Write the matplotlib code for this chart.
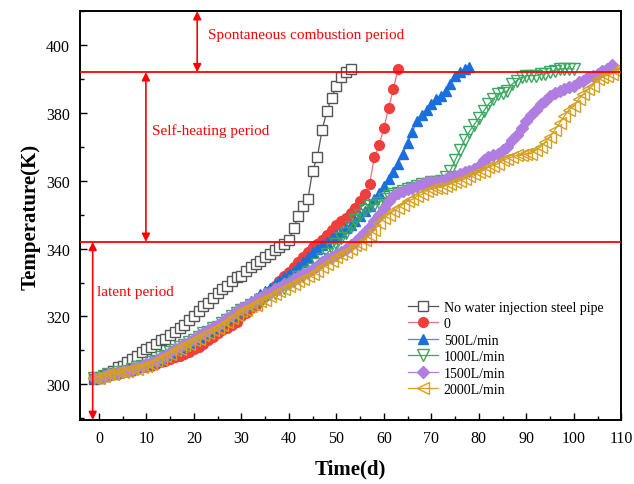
import numpy as np
import matplotlib
matplotlib.use("Agg")
import matplotlib.pyplot as plt
from matplotlib.ticker import MultipleLocator

plt.rcParams['font.family'] = ['Liberation Serif', 'DejaVu Serif']

# temperature (K), one point per day
days_pipe = list(range(-1, 54))
t_pipe = [301.5, 302, 302.5, 303, 304, 305, 305.5, 306.5, 307.5, 308.5, 309.5, 310.5, 311, 312, 313,
          313.5, 314.5, 315.5, 316.5, 317.5, 319, 320, 321.5, 323, 324, 325.5, 327, 328, 329, 330.5,
          331.5, 332, 333.5, 334.5, 335.5, 336.5, 337.5, 338.5, 339.5, 340.5, 341.5, 342.5, 346, 349.5,
          352.5, 354.5, 363, 367, 375, 380.5, 384.5, 388, 390.5, 392, 393]

days_0 = list(range(-1, 64))
t_0 = [302, 302, 302.5, 302.5, 303, 303, 303.5, 304, 304, 304.5, 305, 305, 305.5, 306, 306.5, 307,
       307.5, 308, 308.5, 309, 309.5, 310.5, 311, 312, 313, 314, 315, 316, 316.5, 317.5, 318.5, 320,
       321, 322.5, 323.5, 325, 326, 327.5, 329, 330.5, 332, 333, 334.5, 336, 337.5, 339, 340.5, 341.5,
       342.5, 344, 345.5, 347, 348, 349, 350.5, 352, 354, 356, 359, 367, 370.5, 375.5, 381.5, 387, 393]

days_500 = list(range(-1, 79))
t_500 = [302, 302, 302.5, 303, 303, 303.5, 304, 304, 304.5, 305, 305.5, 306, 306.5, 307, 307.5, 308.5,
         309, 310, 310.5, 311.5, 312, 313, 314, 315, 315.5, 316.5, 317.5, 318.5, 319.5, 320.5, 321.5,
         322.5, 323.5, 324.5, 325.5, 326.5, 327.5, 328.5, 329.5, 330.5, 331.5, 332.5, 333.5, 334.5, 336,
         337.5, 339, 340, 341, 342, 343, 344, 345, 346, 347, 348, 349.5, 351, 352.5, 354.5, 356.5, 358.5,
         360.5, 362.5, 365, 368, 371, 374.5, 377.5, 379.5, 381, 382.5, 384, 385, 386.5, 388.5, 391, 392,
         393, 393.5]

days_1000 = list(range(-1, 101))
t_1000 = [302, 302, 302.5, 303, 303, 303.5, 303.5, 304, 304.5, 305, 305.5, 305.5, 306.5, 307, 308, 308.5,
          309.5, 310, 311, 311.5, 312.5, 313, 314, 315, 315.5, 316.5, 317, 318, 319, 320, 321, 322, 322.5,
          323.5, 324, 325, 325.5, 326.5, 327, 328, 328.5, 329.5, 330.5, 331.5, 332, 333, 334, 335.5, 337,
          338.5, 340, 341.5, 343, 344.5, 346.5, 348.5, 350, 351.5, 352.5, 353, 353.5, 354.5, 355.5, 356,
          356.5, 357, 357.5, 358, 358.5, 359, 359, 359.5, 359.5, 360, 361, 363, 366, 369, 372, 374.5, 376.5,
          378.5, 380.5, 382.5, 384, 385.5, 386, 386.5, 388.5, 389.5, 390.5, 391, 391, 391, 391.5, 391.5, 392,
          392.5, 393, 393, 393, 393]

days_1500 = list(range(-1, 109))
t_1500 = [302, 302, 302.5, 303, 303, 303.5, 304, 304, 304.5, 305, 305.5, 306, 306.5, 307, 308, 308.5,
          309.5, 310.5, 311, 312, 312.5, 313.5, 314.5, 315, 316, 317, 317.5, 318.5, 319.5, 320.5, 321.5,
          322.5, 323, 324, 325, 325.5, 326.5, 327, 328, 328.5, 329.5, 330, 331, 331.5, 332.5, 333, 334,
          335, 336, 337, 337.5, 338, 339, 340, 341, 342, 343.5, 345, 346.5, 348, 350, 352, 354, 355.5, 356.5,
          357, 357.5, 358, 358.5, 359, 359.5, 359.5, 360, 360, 360.5, 361, 361.5, 362, 362.5, 363, 363.5,
          364.5, 366, 367, 367.5, 368, 369, 370, 372, 373.5, 375.5, 377.5, 379.5, 381, 382.5, 383.5, 385,
          386, 386.5, 387, 387.5, 388, 389, 389.5, 390.5, 391, 391.5, 392.5, 393, 394]

days_2000 = list(range(-1, 111))
t_2000 = [302, 302, 302.5, 303, 303, 303.5, 303.5, 304, 304.5, 304.5, 305, 305.5, 306, 307, 307.5, 308.5,
          309, 310, 310.5, 311.5, 312, 313, 313.5, 314.5, 315, 316, 316.5, 317.5, 318.5, 319.5, 320.5,
          321.5, 322, 323, 323.5, 324.5, 325, 326, 326.5, 327.5, 328, 329, 329.5, 330.5, 331, 332, 332.5,
          333.5, 334.5, 335.5, 336.5, 337.5, 338.5, 339, 340, 341, 341.5, 342.5, 344, 345.5, 347.5, 349,
          350, 351, 352, 353, 354, 354.5, 355.5, 356, 357, 357.5, 358, 358, 358.5, 359, 359.5, 360, 360.5,
          361.5, 362, 362.5, 363, 364, 364.5, 365, 366, 366.5, 367, 367.5, 367.5, 368, 368, 369, 370, 371.5,
          373, 375, 377, 379, 381, 382, 384, 385.5, 387, 388, 390, 390.5, 391, 391.5, 392.5, 393.5]

series = [
    ("No water injection steel pipe", days_pipe, t_pipe),
    ("0", days_0, t_0),
    ("500L/min", days_500, t_500),
    ("1000L/min", days_1000, t_1000),
    ("1500L/min", days_1500, t_1500),
    ("2000L/min", days_2000, t_2000),
]

styles = [
    dict(color='#555555', marker='s', mfc='white', mec='#555555', ms=6.5, lw=0.9),
    dict(color='#f07070', marker='o', mfc='#ef3e3e', mec='#ef3e3e', ms=7, lw=0.9),
    dict(color='#4a8ae0', marker='^', mfc='#1b6fdc', mec='#1b6fdc', ms=7.5, lw=0.9),
    dict(color='#3aa860', marker='v', mfc='none', mec='#3aa860', ms=8, lw=0.9),
    dict(color='#b07de0', marker='D', mfc='#b07de0', mec='#b07de0', ms=6.5, lw=0.9),
    dict(color='#d6a020', marker='<', mfc='none', mec='#d6a020', ms=8, lw=0.9),
]

lines_y = [392, 342]
x_min, x_max = -4, 110
y_min, y_max = 289.5, 410

fig = plt.figure(figsize=(6.34, 4.85), dpi=100)
ax = fig.add_axes([0.126, 0.132, 0.854, 0.843])

for (label, x, y), st in zip(series, styles):
    ax.plot(x, y, label=label, markeredgewidth=1.0, **st)

for yl in lines_y:
    ax.axhline(yl, color='red', lw=1.3, zorder=5)

arrow = dict(arrowstyle='<|-|>', color='red', lw=1.2, mutation_scale=12, shrinkA=0, shrinkB=0)
ax.annotate('', xy=(20.7, y_max), xytext=(20.7, lines_y[0]), arrowprops=arrow)
ax.annotate('', xy=(9.9, lines_y[0]), xytext=(9.9, lines_y[1]), arrowprops=arrow)
ax.annotate('', xy=(-1.3, lines_y[1]), xytext=(-1.3, y_min), arrowprops=arrow)

ax.text(23, 403, 'Spontaneous combustion period', color='red', fontsize=11, va='center')
ax.text(11.2, 375, 'Self-heating period', color='red', fontsize=11, va='center')
ax.text(-0.4, 327.5, 'latent period', color='red', fontsize=11, va='center')

ax.set_xlim(x_min, x_max)
ax.set_ylim(y_min, y_max)
ax.xaxis.set_major_locator(MultipleLocator(10))
ax.xaxis.set_minor_locator(MultipleLocator(5))
ax.yaxis.set_major_locator(MultipleLocator(20))
ax.yaxis.set_minor_locator(MultipleLocator(10))
ax.tick_params(which='both', direction='in', labelsize=11.5)
ax.tick_params(which='major', length=5, width=1, pad=7)
ax.tick_params(which='minor', length=3, width=1)
for sp in ax.spines.values():
    sp.set_linewidth(1.4)

ax.set_xlabel('Time(d)', fontsize=15, fontweight='bold', labelpad=9)
ax.set_ylabel('Temperature(K)', fontsize=15, fontweight='bold', labelpad=4)

ax.legend(loc='upper left', bbox_to_anchor=(0.595, 0.305), frameon=False, fontsize=10,
          handlelength=2.2, labelspacing=0.25, borderaxespad=0, handletextpad=0.4)

fig.savefig('out.png', dpi=100)
